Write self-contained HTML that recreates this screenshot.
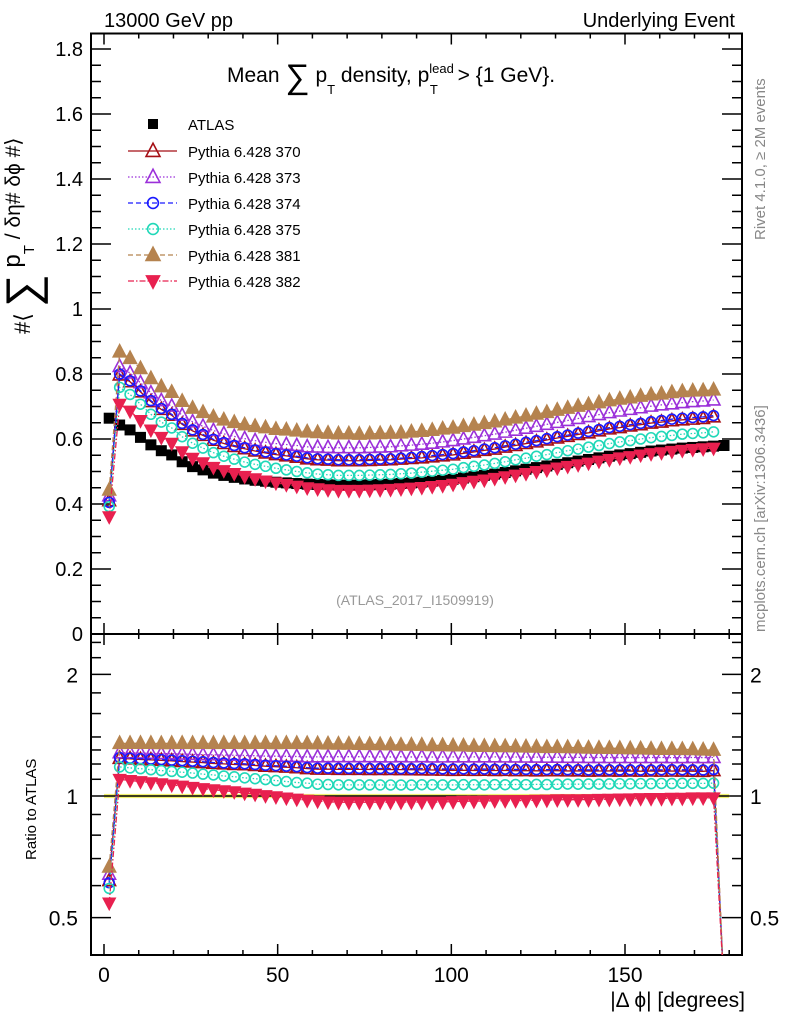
<!DOCTYPE html>
<html><head><meta charset="utf-8"><style>
html,body{margin:0;background:#fff;width:786px;height:1024px;overflow:hidden}
svg{display:block;font-family:"Liberation Sans",sans-serif}
</style></head><body>
<svg id="c" width="786" height="1024" viewBox="0 0 786 1024" xmlns="http://www.w3.org/2000/svg">
<defs>
<clipPath id="cpTop"><rect x="91" y="33.5" width="651" height="600.5"/></clipPath>
<clipPath id="cpRat"><rect x="91" y="634" width="651" height="321"/></clipPath>
</defs>
<text x="104" y="27" font-size="20">13000 GeV pp</text>
<text x="735" y="27" font-size="20" text-anchor="end">Underlying Event</text>
<text x="227" y="82" font-size="21">Mean <tspan font-size="34" dy="6">∑</tspan><tspan dy="-6"> p</tspan><tspan font-size="13" dy="12">T</tspan><tspan dy="-12"> density, p</tspan><tspan font-size="13" dy="-9">lead</tspan><tspan font-size="13" dx="-24" dy="21">T</tspan><tspan dx="14" dy="-12"> &gt; {1 GeV}.</tspan></text>
<text x="415" y="605" font-size="14" fill="#999" text-anchor="middle">(ATLAS_2017_I1509919)</text>
<text transform="translate(765,240) rotate(-90)" font-size="15" fill="#888">Rivet 4.1.0, ≥ 2M events</text>
<text transform="translate(765,632) rotate(-90)" font-size="15" fill="#888">mcplots.cern.ch [arXiv:1306.3436]</text>
<text transform="translate(30,334) rotate(-90)" font-size="22">#⟨ <tspan font-size="46" dy="8">∑</tspan><tspan font-size="24" dy="-18"> p</tspan><tspan font-size="15" dy="14">T</tspan><tspan font-size="21" dy="-14"> / δη# δϕ #⟩</tspan></text>
<text transform="translate(36,860) rotate(-90)" font-size="15">Ratio to ATLAS</text>
<text x="745" y="1007" font-size="21" text-anchor="end">|Δ ϕ| [degrees]</text>
<g id="axes"></g>
<g id="marks"></g>
<g id="legend"></g>
</svg>
<script>
const NS="http://www.w3.org/2000/svg";
const binCenters=[1.5,4.5,7.5,10.5,13.5,16.5,19.5,22.5,25.5,28.5,31.5,34.5,37.5,40.5,43.5,46.5,49.5,52.5,55.5,58.5,61.5,64.5,67.5,70.5,73.5,76.5,79.5,82.5,85.5,88.5,91.5,94.5,97.5,100.5,103.5,106.5,109.5,112.5,115.5,118.5,121.5,124.5,127.5,130.5,133.5,136.5,139.5,142.5,145.5,148.5,151.5,154.5,157.5,160.5,163.5,166.5,169.5,172.5,175.5,178.5];
const atlasValues=[.664,.643,.628,.605,.582,.564,.551,.530,.515,.505,.495,.488,.482,.477,.473,.470,.467,.465,.463,.461,.460,.459,.458,.458,.458,.459,.460,.461,.463,.465,.467,.470,.473,.476,.480,.484,.488,.492,.497,.502,.507,.512,.517,.522,.527,.532,.537,.542,.547,.551,.555,.559,.563,.566,.569,.572,.574,.576,.578,.580];
const py370=[.410,.797,.776,.745,.715,.691,.673,.645,.625,.611,.596,.586,.577,.570,.563,.557,.552,.548,.544,.539,.536,.535,.533,.533,.533,.534,.535,.536,.538,.540,.542,.545,.548,.551,.556,.560,.565,.569,.575,.580,.586,.591,.597,.603,.608,.614,.619,.625,.631,.635,.640,.644,.649,.652,.656,.659,.661,.663,.668,null];
const py373=[.425,.823,.803,.773,.742,.718,.701,.673,.653,.639,.626,.616,.608,.601,.595,.590,.586,.583,.580,.576,.575,.574,.573,.573,.573,.574,.575,.576,.579,.581,.584,.587,.591,.595,.600,.605,.610,.615,.621,.627,.633,.639,.645,.651,.657,.663,.669,.675,.681,.686,.691,.696,.701,.705,.708,.712,.715,.717,.720,null];
const py374=[.405,.800,.779,.748,.718,.694,.676,.648,.628,.614,.599,.589,.580,.573,.566,.560,.555,.551,.547,.542,.539,.538,.536,.536,.536,.537,.538,.539,.541,.543,.546,.549,.552,.555,.560,.564,.569,.573,.579,.584,.590,.595,.601,.607,.612,.618,.623,.629,.635,.639,.644,.648,.653,.657,.661,.664,.666,.668,.672,null];
const py375=[.392,.759,.737,.707,.676,.652,.634,.607,.587,.572,.558,.547,.538,.529,.522,.516,.510,.505,.500,.496,.492,.490,.488,.488,.488,.489,.490,.491,.493,.495,.498,.501,.504,.507,.512,.516,.520,.525,.530,.536,.541,.547,.552,.558,.564,.569,.575,.580,.586,.591,.595,.600,.604,.608,.611,.615,.617,.619,.622,null];
const py381=[.443,.868,.848,.817,.786,.761,.744,.716,.695,.682,.668,.659,.651,.644,.639,.635,.630,.628,.625,.622,.620,.618,.616,.616,.615,.616,.617,.618,.619,.622,.624,.627,.631,.634,.639,.643,.648,.653,.659,.665,.671,.677,.682,.689,.695,.701,.706,.712,.718,.723,.727,.732,.736,.739,.743,.746,.748,.749,.751,null];
const py382=[.361,.707,.686,.657,.628,.605,.587,.561,.541,.527,.513,.503,.494,.485,.478,.471,.465,.460,.455,.450,.447,.444,.442,.442,.442,.443,.444,.445,.447,.449,.451,.454,.457,.461,.466,.470,.474,.479,.484,.489,.494,.500,.505,.511,.516,.521,.526,.532,.537,.542,.546,.551,.555,.558,.562,.565,.568,.570,.572,null];
const seriesNames=["Pythia 6.428 370","Pythia 6.428 373","Pythia 6.428 374","Pythia 6.428 375","Pythia 6.428 381","Pythia 6.428 382"];
const yTicksTop=[0,0.2,0.4,0.6,0.8,1,1.2,1.4,1.6,1.8];
const yTickLabelsTop=["0","0.2","0.4","0.6","0.8","1","1.2","1.4","1.6","1.8"];
const ratioTicks=[0.5,1,2];
const ratioTickLabels=["0.5","1","2"];
const xTicks=[0,50,100,150];

const X=v=>104+v*(521/150);
const YT=v=>634-325*v;
const YR=r=>r<=0?990:Math.min(990,796-121.6*Math.log2(r));
const L=91,R=742,TT=33.5,TB=634,RB=955;
const MS=11;

const styles=[
 {c:"#a50f15",dash:"",m:"tri",fill:false},
 {c:"#9b30d9",dash:"1.5,2",m:"tri",fill:false},
 {c:"#1a1aff",dash:"5,3",m:"circ",fill:false},
 {c:"#20d8b8",dash:"1.5,2",m:"circ",fill:false},
 {c:"#b5834f",dash:"5,3",m:"tri",fill:true},
 {c:"#e8204f",dash:"6,2,1.5,2",m:"dtri",fill:true}
];
const series=[py370,py373,py374,py375,py381,py382];

function el(tag,attrs,parent){const e=document.createElementNS(NS,tag);for(const k in attrs)e.setAttribute(k,attrs[k]);parent.appendChild(e);return e;}
const axes=document.getElementById('axes'),marks=document.getElementById('marks'),leg=document.getElementById('legend');

let f1=el('rect',{x:L,y:TT,width:R-L,height:TB-TT,fill:'none',stroke:'#000','stroke-width':2},axes);

let f2=el('rect',{x:L,y:TB,width:R-L,height:RB-TB,fill:'none',stroke:'#000','stroke-width':2},axes);


for(let v=0;v<=1.84;v+=0.05){const y=YT(v);const maj=Math.abs(v/0.2-Math.round(v/0.2))<1e-6;const len=maj?20:10;
 el('line',{x1:L,x2:L+len,y1:y,y2:y,stroke:'#000','stroke-width':1.5},axes);
 el('line',{x1:R,x2:R-len,y1:y,y2:y,stroke:'#000','stroke-width':1.5},axes);}
yTicksTop.forEach((v,i)=>{const t=el('text',{x:83,y:YT(v)+7,'font-size':20,'text-anchor':'end'},axes);t.textContent=yTickLabelsTop[i];
 });
[0.4,0.6,0.7,0.8,0.9,1.1,1.2,1.3,1.4,1.6,1.8,2.2,2.4].forEach(r=>{const y=YR(r);if(y<TB||y>RB)return;
 el('line',{x1:L,x2:L+10,y1:y,y2:y,stroke:'#000','stroke-width':1.5},axes);el('line',{x1:R,x2:R-10,y1:y,y2:y,stroke:'#000','stroke-width':1.5},axes);});
ratioTicks.forEach((r,i)=>{const y=YR(r);
 el('line',{x1:L,x2:L+20,y1:y,y2:y,stroke:'#000','stroke-width':1.5},axes);el('line',{x1:R,x2:R-20,y1:y,y2:y,stroke:'#000','stroke-width':1.5},axes);
 const t=el('text',{x:78,y:y+8,'font-size':21,'text-anchor':'end'},axes);t.textContent=ratioTickLabels[i];
 
 const t2=el('text',{x:750,y:y+8,'font-size':21},axes);t2.textContent=ratioTickLabels[i];
 });
for(let v=0;v<=180;v+=10){const x=X(v);const maj=v%50===0;const len=maj?11:5;
 [[TB,-1],[TT,1],[RB,-1],[TB,1]].forEach(([y0,d])=>el('line',{x1:x,x2:x,y1:y0,y2:y0+d*len,stroke:'#000','stroke-width':1.5},axes));}
xTicks.forEach(v=>{const t=el('text',{x:X(v),y:982,'font-size':21,'text-anchor':'middle'},axes);t.textContent=String(v);
 });

function marker(g,st,x,y,s){
 if(st.m==='tri'){el('polygon',{points:`${x},${y-s*0.65} ${x-s*0.58},${y+s*0.45} ${x+s*0.58},${y+s*0.45}`,fill:st.fill?st.c:'#fff','fill-opacity':st.fill?1:0,stroke:st.c,'stroke-width':1.6},g);}
 else if(st.m==='dtri'){el('polygon',{points:`${x},${y+s*0.65} ${x-s*0.58},${y-s*0.45} ${x+s*0.58},${y-s*0.45}`,fill:st.c,stroke:st.c,'stroke-width':1},g);}
 else{el('circle',{cx:x,cy:y,r:s*0.45,fill:'none',stroke:st.c,'stroke-width':1.6},g);}
}

const band=el('rect',{x:X(0),y:YR(1.012),width:X(180)-X(0),height:YR(0.988)-YR(1.012),fill:'#f0f070'},marks);

const one=el('line',{x1:X(0),x2:X(180),y1:YR(1),y2:YR(1),stroke:'#000','stroke-width':1.5},marks);


const ga=el('g',{},marks);
binCenters.forEach((c,i)=>{const r=el('rect',{x:X(c)-5.5,y:YT(atlasValues[i])-5.5,width:11,height:11,fill:'#000'},ga);
 });

series.forEach((vals,si)=>{const st=styles[si];
 const g=el('g',{'clip-path':'url(#cpTop)'},marks);
 const gr=el('g',{'clip-path':'url(#cpRat)'},marks);
 let pts=[],rpts=[];
 binCenters.forEach((c,i)=>{const v=vals[i];const rr=(v==null?0:v)/atlasValues[i];rpts.push(X(c)+','+YR(rr));if(v!=null)pts.push(X(c)+','+YT(v));});
 el('polyline',{points:pts.join(' '),fill:'none',stroke:st.c,'stroke-width':1.3,'stroke-dasharray':st.dash},g);
 el('polyline',{points:rpts.join(' '),fill:'none',stroke:st.c,'stroke-width':1.3,'stroke-dasharray':st.dash},gr);
 binCenters.forEach((c,i)=>{const v=vals[i];if(v==null)return;marker(g,st,X(c),YT(v),MS);marker(gr,st,X(c),YR(v/atlasValues[i]),MS);});
});

const la=el('g',{},leg);
el('rect',{x:148,y:119,width:10,height:10,fill:'#000'},la);
const lt=el('text',{x:188,y:130,'font-size':15},la);lt.textContent='ATLAS';
seriesNames.forEach((n,i)=>{const y=151+26*i;const st=styles[i];
 const g=el('g',{},leg);
 el('line',{x1:128,x2:177,y1:y,y2:y,stroke:st.c,'stroke-width':1.3,'stroke-dasharray':st.dash},g);
 marker(g,st,153,y,12);
 const t=el('text',{x:188,y:y+6,'font-size':15},g);t.textContent=n;});
</script>
</body></html>
